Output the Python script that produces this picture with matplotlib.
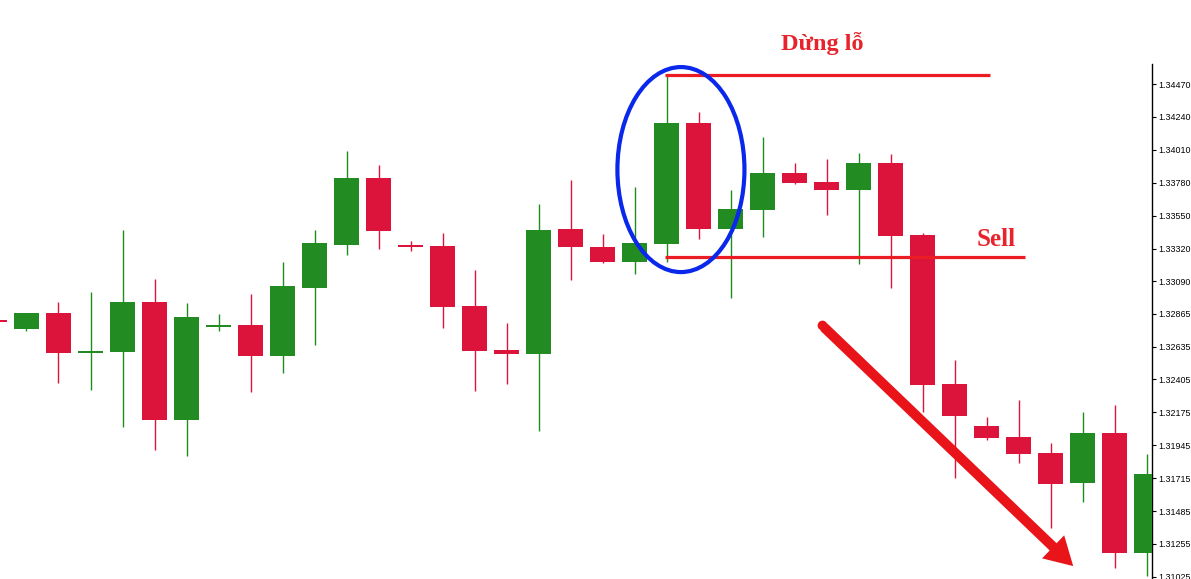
import matplotlib
matplotlib.use('Agg')
import matplotlib.pyplot as plt
from matplotlib.patches import Ellipse, FancyArrowPatch
import numpy as np

# candle data (index -1 is the partly hidden one at the left edge)
opens = [1.32818, 1.32758, 1.32869, 1.32590, 1.32597, 1.32946, 1.32121, 1.32771,
         1.32786, 1.32569, 1.33044, 1.33345, 1.33813, 1.33345, 1.33338, 1.32918,
         1.32611, 1.32583, 1.33457, 1.33331, 1.33226, 1.33352, 1.34197, 1.33457,
         1.33589, 1.33848, 1.33785, 1.33729, 1.33918, 1.33415, 1.32373, 1.32080,
         1.32003, 1.31891, 1.31681, 1.32031, 1.31192]
closes = [1.32804, 1.32869, 1.32590, 1.32604, 1.32946, 1.32121, 1.32841, 1.32786,
          1.32569, 1.33058, 1.33359, 1.33813, 1.33443, 1.33331, 1.32911, 1.32604,
          1.32586, 1.33450, 1.33331, 1.33226, 1.33359, 1.34197, 1.33457, 1.33596,
          1.33848, 1.33778, 1.33729, 1.33918, 1.33408, 1.32366, 1.32149, 1.31996,
          1.31884, 1.31674, 1.32031, 1.31192, 1.31744]
highs = [1.32818, 1.32869, 1.32946, 1.33016, 1.33450, 1.33107, 1.32939, 1.32862,
         1.33002, 1.33226, 1.33450, 1.34002, 1.33904, 1.33373, 1.33429, 1.33170,
         1.32799, 1.33631, 1.33799, 1.33422, 1.33750, 1.34533, 1.34274, 1.33729,
         1.34100, 1.33918, 1.33946, 1.33988, 1.33981, 1.33429, 1.32541, 1.32142,
         1.32261, 1.31961, 1.32177, 1.32226, 1.31884]
lows = [1.32804, 1.32744, 1.32380, 1.32331, 1.32073, 1.31912, 1.31870, 1.32744,
        1.32317, 1.32450, 1.32646, 1.33275, 1.33317, 1.33303, 1.32765, 1.32324,
        1.32373, 1.32045, 1.33100, 1.33219, 1.33142, 1.33226, 1.33387, 1.32974,
        1.33401, 1.33771, 1.33554, 1.33212, 1.33044, 1.32177, 1.31716, 1.31982,
        1.31821, 1.31367, 1.31548, 1.31087, 1.31031]

tick_labels = ["1.34470", "1.34240", "1.34010", "1.33780", "1.33550", "1.33320",
               "1.33090", "1.32865", "1.32635", "1.32405", "1.32175", "1.31945",
               "1.31715", "1.31485", "1.31255", "1.31025"]

stop_loss = 1.34533
sell_level = 1.33261

GREEN = '#228b22'
RED = '#dc143c'
LINE_RED = '#ec1c24'

fig = plt.figure(figsize=(11.91, 5.79), dpi=100)
ax = fig.add_axes([0, 0, 1152 / 1191, 1 - 64 / 579])

x = np.arange(len(opens)) - 1
o = np.array(opens)
c = np.array(closes)
colors = [GREEN if cc >= oo else RED for oo, cc in zip(o, c)]

ax.vlines(x, lows, highs, colors=colors, lw=1.0, zorder=2)
ax.bar(x, np.abs(c - o), bottom=np.minimum(o, c), width=0.78,
       color=colors, lw=0, zorder=3)

ax.set_xlim(-0.828, 35.17)
ax.set_ylim(1.31010, 1.34610)

# axis look: only right spine, MT4 style
for s in ['left', 'top', 'bottom']:
    ax.spines[s].set_visible(False)
ax.spines['right'].set_linewidth(1.0)
ax.set_xticks([])
ax.yaxis.tick_right()
ax.set_yticks([float(t) for t in tick_labels])
ax.set_yticklabels(tick_labels)
ax.tick_params(axis='y', length=3, width=0.8, pad=1.5, labelsize=6.4,
               labelcolor='black')
for lab in ax.get_yticklabels():
    lab.set_family(['Liberation Sans', 'DejaVu Sans'])

# stop loss / sell lines
ax.hlines(stop_loss, 19.95, 30.11, colors=LINE_RED, lw=2.3, zorder=4)
ax.hlines(sell_level, 19.95, 31.2, colors=LINE_RED, lw=2.3, zorder=4)

# blue ellipse round the two big candles
ax.add_patch(Ellipse((20.45, 1.33872), 3.97, 0.01433, fill=False,
                     edgecolor='#0a28ec', lw=3.0, zorder=5))

# red trend arrow
arrow = FancyArrowPatch((24.85, 1.32785), (32.77, 1.31087),
                        arrowstyle='simple,head_length=1.0,head_width=1.15,tail_width=0.36',
                        mutation_scale=20, color='#e8141a', lw=0, zorder=6)
ax.add_patch(arrow)
# round start of the arrow shaft
ax.plot([24.85], [1.32785], 'o', ms=7, color='#e8141a', mew=0, zorder=6)

fig.text(822 / 1191, 1 - 44 / 579, 'Dừng lỗ', color='#e8232b', fontsize=17.5,
         fontweight='bold', family=['Liberation Serif', 'DejaVu Serif'],
         ha='center', va='center')
fig.text(996 / 1191, 1 - 239 / 579, 'Sell', color='#e8232b', fontsize=18,
         fontweight='bold', family=['Liberation Serif', 'DejaVu Serif'],
         ha='center', va='center')

fig.savefig('out.png', dpi=100)
